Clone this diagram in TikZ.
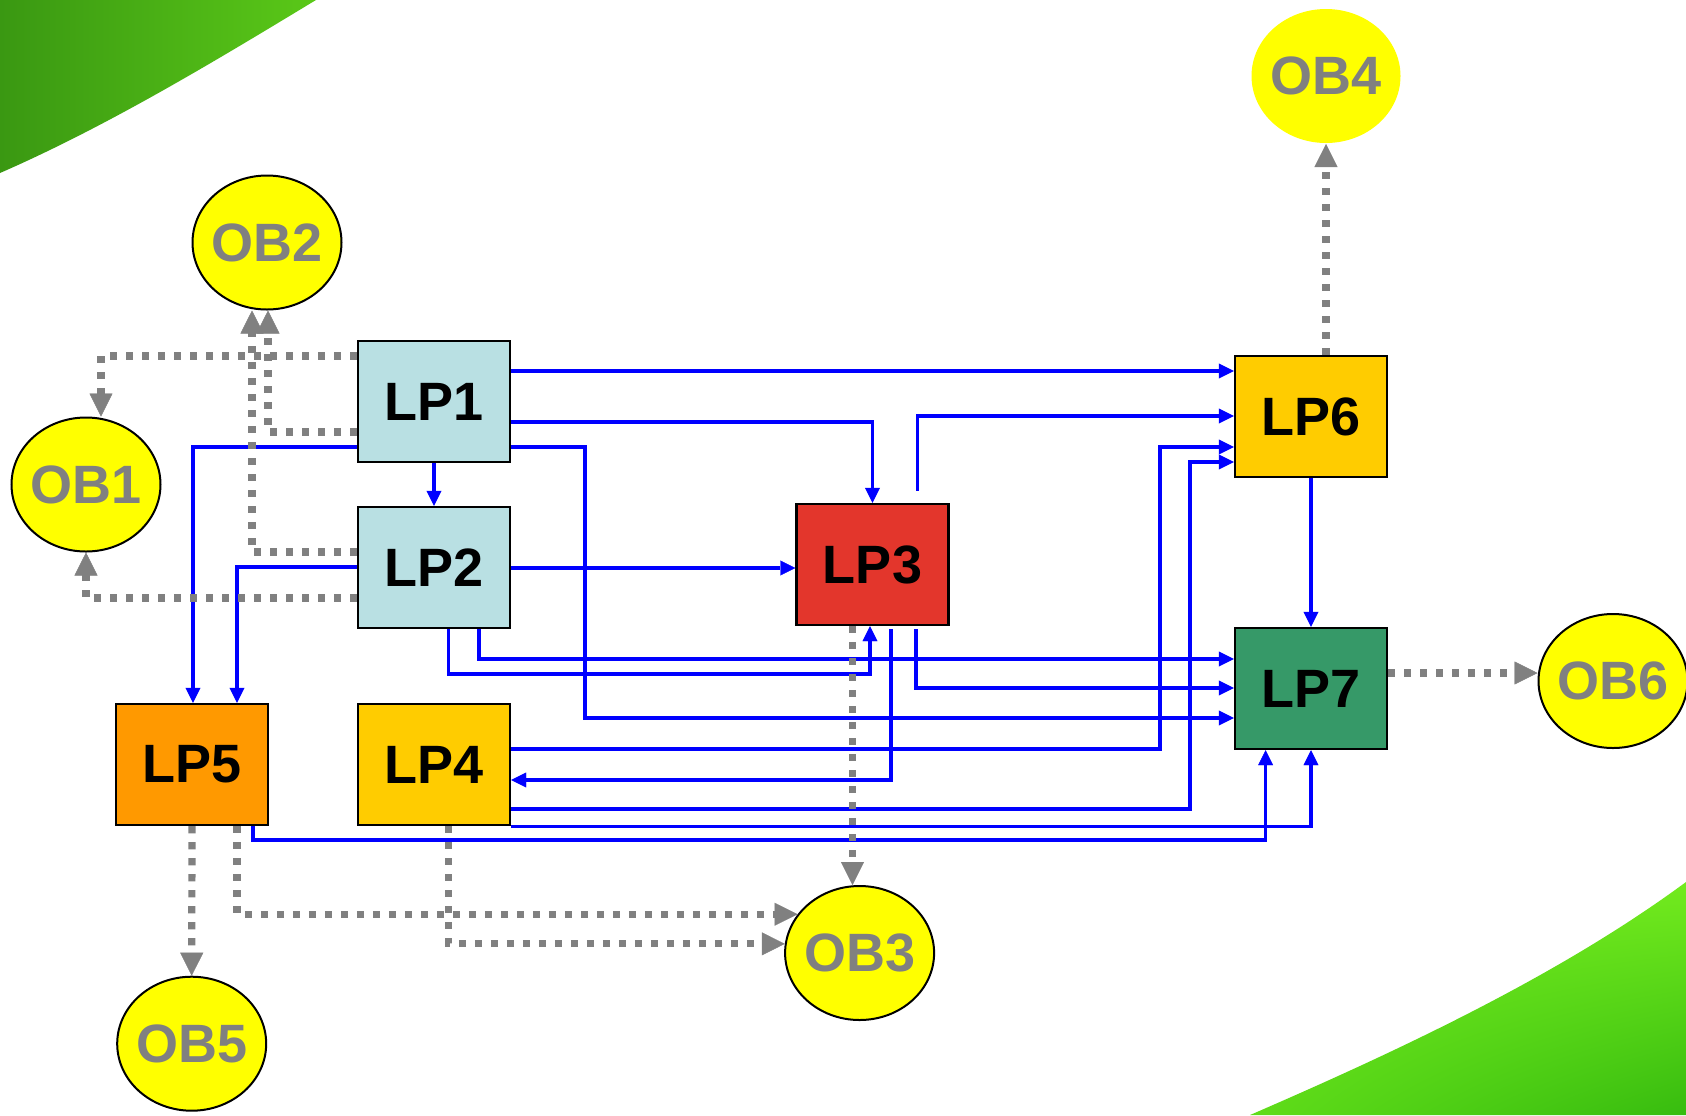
\documentclass[tikz,border=0pt]{standalone}
\usepackage{fontspec}
\setmainfont{Liberation Sans}
\usetikzlibrary{arrows.meta,shapes.geometric,shadings}
\definecolor{lpblue}{RGB}{185,224,227}
\definecolor{lpred}{RGB}{227,54,44}
\definecolor{lpgold}{RGB}{255,204,0}
\definecolor{lporange}{RGB}{255,153,0}
\definecolor{lpgreen}{RGB}{54,153,104}
\definecolor{obyellow}{RGB}{255,255,0}
\definecolor{obgray}{RGB}{128,128,128}
\definecolor{flowblue}{RGB}{0,0,255}
\definecolor{tldark}{RGB}{58,152,18}
\definecolor{tllight}{RGB}{90,200,24}
\definecolor{brlime}{RGB}{115,235,30}
\definecolor{brmid}{RGB}{95,220,25}
\definecolor{brdark}{RGB}{55,188,15}
\begin{document}
\begin{tikzpicture}[x=0.5pt,y=-0.5pt,
  lpbox/.style={rectangle, draw=black, line width=1.2pt, minimum width=76pt, minimum height=60.5pt, inner sep=0pt, font=\fontsize{27}{30}\selectfont\bfseries},
  obell/.style={ellipse, draw=black, line width=1pt, fill=obyellow, minimum width=74.5pt, minimum height=67pt, inner sep=0pt, text=obgray, font=\fontsize{27}{30}\selectfont\bfseries},
  flow/.style={draw=flowblue, line width=1.7pt, -{Triangle[length=7.5pt,width=7.5pt,line width=0.2pt]}},
  obs/.style={draw=obgray, line width=3.6pt, dash pattern=on 3.6pt off 4.4pt, -{Triangle[length=11.5pt,width=11.5pt,line width=0.2pt]}}
]
\useasboundingbox (0,0) rectangle (1686,1115);
\fill[white] (0,0) rectangle (1686,1115);
% background swooshes
\shade[left color=tldark, right color=tllight] (0,0) -- (316,0) .. controls (220,58) and (110,125) .. (0,173) -- cycle;
\shade[upper left=brlime, upper right=brlime, lower left=brmid, lower right=brdark] (1250,1115) .. controls (1400,1050) and (1560,975) .. (1686,882) -- (1686,1115) -- cycle;

% process boxes
\node[lpbox, fill=lpblue] (LP1) at (434,401.5) {LP1};
\node[lpbox, fill=lpblue] (LP2) at (434,567.5) {LP2};
\node[lpbox, fill=lpred] (LP3) at (872.5,564.5) {LP3};
\node[lpbox, fill=lpgold] (LP4) at (434,764.5) {LP4};
\node[lpbox, fill=lporange] (LP5) at (192,764.5) {LP5};
\node[lpbox, fill=lpgold] (LP6) at (1311,416.5) {LP6};
\node[lpbox, fill=lpgreen] (LP7) at (1311,688.5) {LP7};

% output ellipses
\node[obell] (OB1) at (86,484.5) {\makebox[0pt]{OB1}};
\node[obell] (OB2) at (267,242.5) {\makebox[0pt]{OB2}};
\node[obell] (OB3) at (859.6,953) {\makebox[0pt]{OB3}};
\node[obell, draw=none] (OB4) at (1326,76) {\makebox[0pt]{OB4}};
\node[obell] (OB5) at (191.7,1043.7) {\makebox[0pt]{OB5}};
\node[obell] (OB6) at (1613,681) {\makebox[0pt]{OB6}};

% blue flows
\draw[flow] (LP1.east |- 0,371) -- (LP6.west |- 0,371);
\draw[flow] (LP1.east |- 0,422) -| (LP3.north);
\draw[flow] (LP1.east |- 0,447) -- (585,447) |- (LP7.west |- 0,718);
\draw[flow] (LP1) -- (LP2);
\draw[flow] (LP1.west |- 0,447) -| (LP5.north -| 193,0);
\draw[flow] (LP2.west |- 0,567) -| (LP5.north -| 237,0);
\draw[flow] (LP2.east |- 0,568) -- (LP3.west |- 0,568);
\draw[flow] (LP2.south -| 479,0) |- (LP7.west |- 0,659);
\draw[flow] (LP2.south -| 448.5,0) -- (448.5,674) -| (LP3.south -| 870,0);
\draw[flow, shorten <=6pt] (LP3.north -| 917.7,0) |- (LP6.west |- 0,416);
\draw[flow, shorten <=1.5pt] (LP3.south -| 916,0) |- (LP7.west |- 0,688);
\draw[flow, shorten <=1.5pt] (LP3.south -| 891,0) |- (LP4.east |- 0,780);
\draw[flow] (LP4.east |- 0,749) -- (1160,749) |- (LP6.west |- 0,447);
\draw[flow] (LP4.east |- 0,809) -- (1190,809) |- (LP6.west |- 0,462);
\draw[flow] (LP4.south east) -| (LP7.south);
\draw[flow] (LP5.south -| 253,0) -- (253,840) -| (LP7.south -| 1265.6,0);
\draw[flow] (LP6) -- (LP7);

% gray dotted outputs
\draw[obs] (LP1.west |- 0,356) -| (OB1.north -| 101,0);
\draw[obs] (LP1.west |- 0,432) -| (OB2.south -| 268,0);
\draw[obs] (LP2.west |- 0,552) -| (OB2.south -| 252,0);
\draw[obs] (LP2.west |- 0,598) -| (OB1.south);
\draw[obs] (LP3.south -| 852.5,0) -- (OB3.north -| 852.5,0);
\draw[obs] (LP5.south) -- (OB5.north);
\draw[obs] (LP5.south -| 237,0) |- (OB3.148.6);
\draw[obs] (LP4.south -| 448.5,0) |- (OB3.173.9);
\draw[obs] (LP6.north -| OB4.south) -- (OB4.south);
\draw[obs] (LP7.east |- 0,673) -- (OB6.west |- 0,673);
\end{tikzpicture}
\end{document}
